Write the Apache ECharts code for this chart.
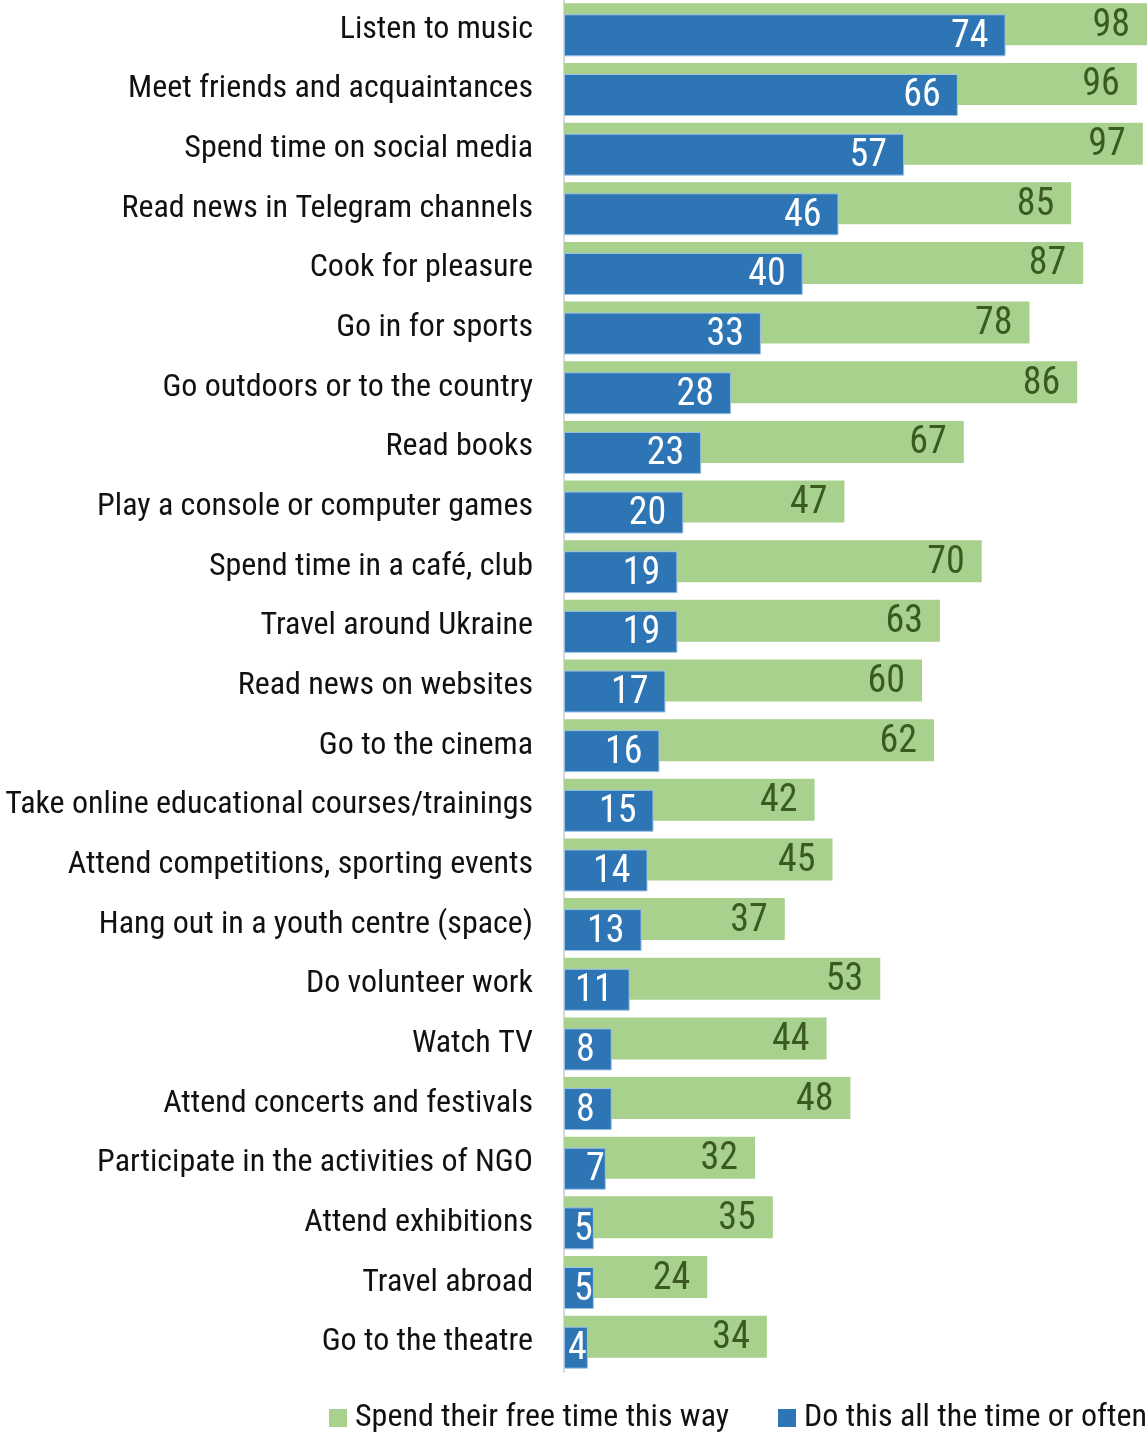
<!DOCTYPE html>
<html><head><meta charset="utf-8">
<script src="https://cdn.jsdelivr.net/npm/echarts@6/dist/echarts.min.js"></script>
<style>html,body{margin:0;padding:0;background:#fff}#c{width:1147px;height:1434px}</style>
</head><body><div id="c"></div>
<script>
const categories = ["Listen to music","Meet friends and acquaintances","Spend time on social media","Read news in Telegram channels","Cook for pleasure","Go in for sports","Go outdoors or to the country","Read books","Play a console or computer games","Spend time in a café, club","Travel around Ukraine","Read news on websites","Go to the cinema","Take online educational courses/trainings","Attend competitions, sporting events","Hang out in a youth centre (space)","Do volunteer work","Watch TV","Attend concerts and festivals","Participate in the activities of NGO","Attend exhibitions","Travel abroad","Go to the theatre"];
const spendFreeTime = [98,96,97,85,87,78,86,67,47,70,63,60,62,42,45,37,53,44,48,32,35,24,34];
const doOften = [74,66,57,46,40,33,28,23,20,19,19,17,16,15,14,13,11,8,8,7,5,5,4];
const seriesNames = ["Spend their free time this way","Do this all the time or often"];

const FONT = "'Roboto Condensed','Liberation Sans Narrow','DejaVu Sans Condensed',sans-serif";
const chart = echarts.init(document.getElementById('c'), null, {renderer:'canvas'});
function items(arr, small){
  return arr.map(v => ({value: v, label: {distance: v < 8 ? small : 17}}));
}
const legendBase = {
  top:1402, itemWidth:18, itemHeight:18, icon:'rect', padding:0,
  itemStyle:{borderWidth:0},
  textStyle:{fontFamily:FONT, fontSize:32, color:'#111', padding:[0,0,0,3]}
};
chart.setOption({
  animation:false,
  grid:{left:564, top:-1, right:0, height:1373, containLabel:false},
  legend:[
    Object.assign({left:329, data:[seriesNames[0]]}, legendBase),
    Object.assign({left:778, data:[seriesNames[1]]}, legendBase)
  ],
  xAxis:{type:'value', min:0, max:97.7, show:false},
  yAxis:{type:'category', data:categories, inverse:true,
    axisLine:{show:true, lineStyle:{color:'#d9d9d9', width:2}},
    axisTick:{show:false},
    axisLabel:{fontFamily:FONT, fontSize:32, color:'#111', margin:31}
  },
  series:[
    {name:seriesNames[0], type:'bar', data:items(spendFreeTime, 16), barWidth:42, barGap:'-73.8%',
      itemStyle:{color:'#a9d18e'},
      label:{show:true, position:'insideRight', offset:[0,2], color:'#3a5a22', fontFamily:FONT, fontSize:38}},
    {name:seriesNames[1], type:'bar', data:items(doOften, 1), barWidth:42, barGap:'-73.8%',
      itemStyle:{color:'#2e75b6', borderColor:'#9dc3e6', borderWidth:1},
      label:{show:true, position:'insideRight', offset:[0,2], color:'#fff', fontFamily:FONT, fontSize:38}}
  ]
});
</script></body></html>
